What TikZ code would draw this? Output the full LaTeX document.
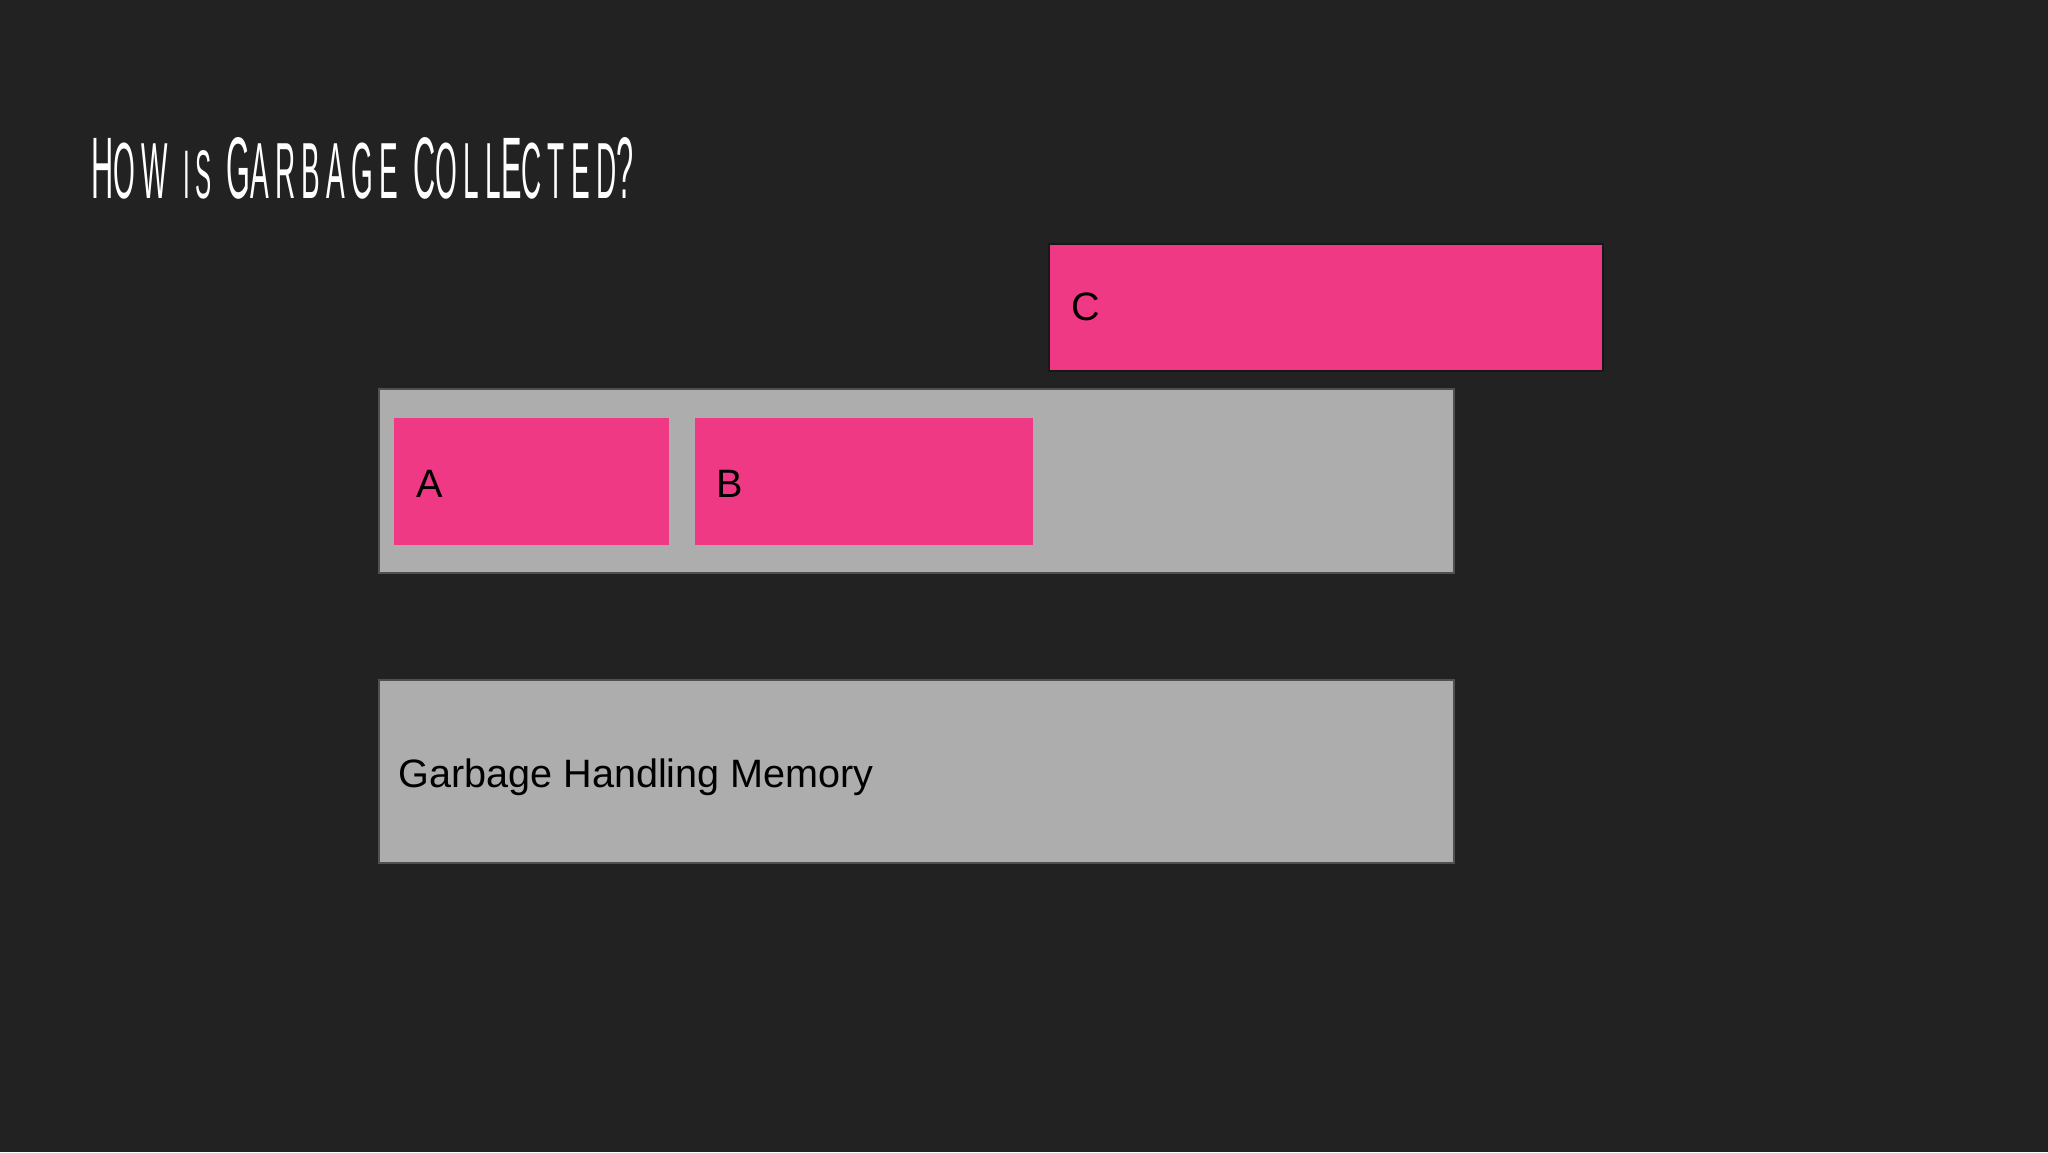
\documentclass[tikz,border=0pt]{standalone}
\usepackage{fontspec}
\usepackage{graphicx}
\usepackage{tikz}
\setmainfont{Liberation Sans}
\newfontfamily\titlefont[LetterSpace=22]{Liberation Sans}
\definecolor{slide_bg}{RGB}{34, 34, 34}
\definecolor{obj_pink}{RGB}{239, 57, 132}
\definecolor{mem_gray}{RGB}{174, 173, 173}
\definecolor{mem_edge}{RGB}{80, 80, 80}
\tikzstyle{obj}=[rectangle,fill=obj_pink,inner sep=0pt]
\tikzstyle{mem}=[rectangle,fill=mem_gray,draw=mem_edge,
  line width=1pt,inner sep=0pt,minimum width=537.5pt]
\tikzstyle{lbl}=[anchor=base west,inner sep=0pt,text=black,
  font=\fontsize{19.8pt}{24pt}\selectfont]
\newcommand{\tsm}[1]{{\fontsize{38.8pt}{40pt}\selectfont #1}}
\newcommand{\tis}[1]{{\fontsize{33.5pt}{36pt}\selectfont #1}}

\begin{document}
\begin{tikzpicture}[x=0.5pt,y=-0.5pt]
    % slide background, also fixes the page size
    \fill[slide_bg] (0,0) rectangle (2048,1152);
    \node [anchor=base west,inner sep=0pt,text=white] (title) at (91,198)
      {\resizebox{271pt}{30.5pt}{\titlefont\fontsize{42.6pt}{46pt}\selectfont
        H\tsm{OW} \tis{IS} G\tsm{ARBAGE} C\tsm{OLL}E\tsm{CTED}?}};
    \node [style=obj,draw=slide_bg!70!black,line width=0.8pt,
      minimum width=277pt,minimum height=63.5pt] (c) at (1326,307.5) {};
    \node [style=mem,minimum height=92pt] (heap) at (916.5,481) {};
    \node [style=obj,minimum width=137.5pt,minimum height=63.5pt] (a) at (531.5,481.5) {};
    \node [style=obj,minimum width=169pt,minimum height=63.5pt] (b) at (864,481.5) {};
    \node [style=mem,minimum height=91.5pt] (gc) at (916.5,771.5) {};
    \node [style=lbl] (c lbl) at (1071,320) {C};
    \node [style=lbl] (a lbl) at (416,497) {A};
    \node [style=lbl] (b lbl) at (716,497) {B};
    \node [style=lbl] (gc lbl) at (398,787) {Garbage Handling Memory};
  \end{tikzpicture}
\end{document}
